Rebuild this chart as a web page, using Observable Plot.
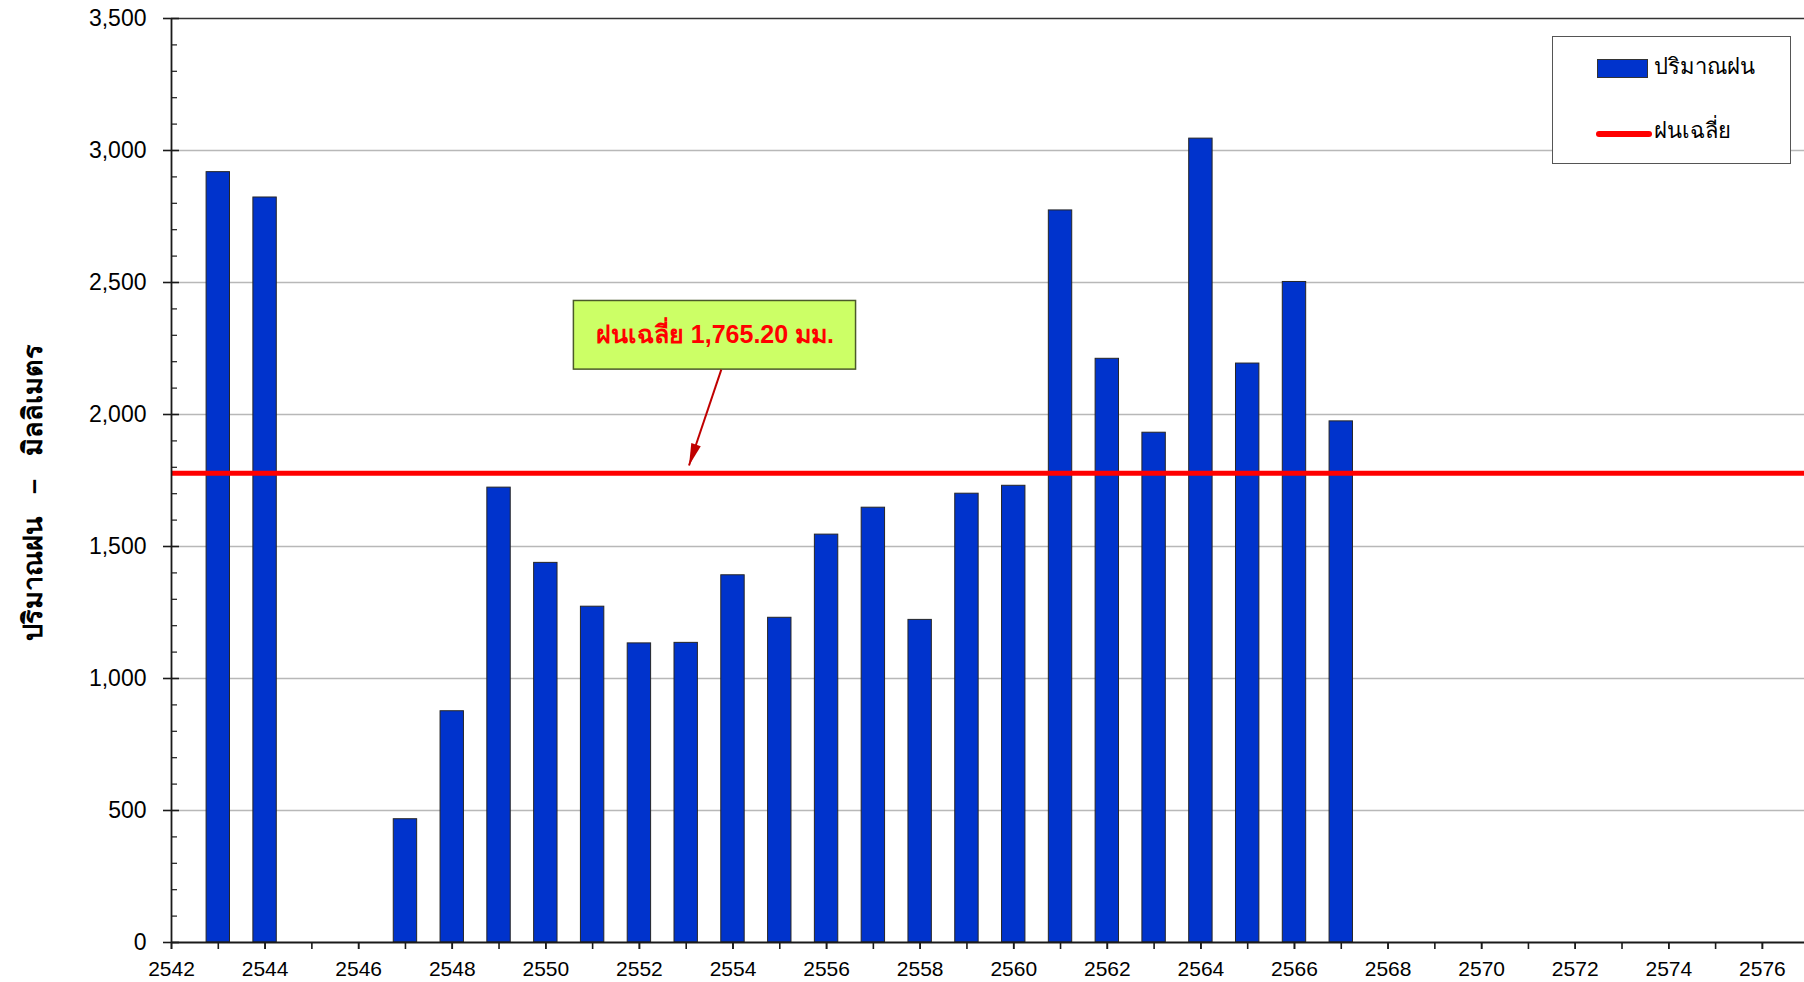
<!DOCTYPE html>
<html>
<head>
<meta charset="utf-8">
<script src="https://cdn.jsdelivr.net/npm/d3@7"></script>
<script src="https://cdn.jsdelivr.net/npm/@observablehq/plot@0.6"></script>
<style>
  body { margin: 0; background: #fff; }
  #wrap { position: relative; width: 1804px; height: 982px; overflow: hidden;
          font-family: Tahoma, "Liberation Sans", "Noto Sans", sans-serif; }
  #legend { position: absolute; left: 1552px; top: 36px; width: 239px; height: 128px;
            border: 1.5px solid #555; background: #fff; box-sizing: border-box; }
  #legend .sw { position: absolute; left: 44px; top: 22px; width: 51px; height: 19px;
                background: #0033cc; border: 1px solid #333; box-sizing: border-box; }
  #legend .ln { position: absolute; left: 43px; top: 94px; width: 56px; height: 6px;
                background: #ff0000; border-radius: 3px; }
  #legend .t { position: absolute; left: 101px; font-size: 22px; color: #000; line-height: 1; white-space: nowrap; }
</style>
</head>
<body>
<div id="wrap"></div>
<script>
// ---- data ----
const years    = [2543, 2544, 2547, 2548, 2549, 2550, 2551, 2552, 2553, 2554, 2555, 2556,
                  2557, 2558, 2559, 2560, 2561, 2562, 2563, 2564, 2565, 2566, 2567];
const rainfall = [2918, 2822, 467, 876, 1723, 1438, 1272, 1133, 1135, 1391, 1230, 1545,
                  1647, 1222, 1700, 1730, 2773, 2211, 1931, 3045, 2193, 2502, 1974];
const meanValue = 1777;
const meanLabel = "ฝนเฉลี่ย 1,765.20 มม.";
const yTicks = [0, 500, 1000, 1500, 2000, 2500, 3000, 3500];
const yMinorTicks = d3.range(0, 3501, 100).filter(v => v % 500 !== 0);
const xTickLabels = d3.range(2542, 2577, 2);
const xAllTicks = d3.range(2542, 2577, 1);
const yTitle = "ปริมาณฝน   –   มิลลิเมตร";
const legendLabels = ["ปริมาณฝน", "ฝนเฉลี่ย"];

// annotation placement (data units)
const noteBox = {x1: 2550.6, x2: 2556.63, y1: 2170, y2: 2430};
const noteArrow = {x1: 2553.75, y1: 2170, x2: 2553.06, y2: 1807};

const data = years.map((y, i) => ({year: y, value: rainfall[i]}));

const W = 1804, H = 982;
const mL = 171, mR = 0, mT = 18, mB = 40;
const xDomain = [2542, 2576.9];
const yDomain = [0, 3500];

// pixel scales to orient the arrowhead
const px = d3.scaleLinear(xDomain, [mL, W - mR]);
const py = d3.scaleLinear(yDomain, [H - mB, mT]);
const adx = px(noteArrow.x2) - px(noteArrow.x1);
const ady = py(noteArrow.y2) - py(noteArrow.y1);
const headAngle = Math.atan2(adx, -ady) * 180 / Math.PI;

const headSymbol = {
  draw(ctx) {
    ctx.moveTo(0, 0);
    ctx.lineTo(-5, 22);
    ctx.lineTo(5, 22);
    ctx.closePath();
  }
};

const font = 'Tahoma, "Liberation Sans", "Noto Sans", sans-serif';

const chart = Plot.plot({
  width: W, height: H,
  marginLeft: mL, marginRight: mR, marginTop: mT, marginBottom: mB,
  style: {fontFamily: font, background: "#fff", color: "#000", overflow: "visible"},
  x: {domain: xDomain, axis: null},
  y: {domain: yDomain, axis: null},
  marks: [
    Plot.gridY(yTicks.filter(v => v > 0 && v < 3500), {stroke: "#b8b8b8", strokeOpacity: 1, strokeWidth: 1.4}),
    Plot.ruleY([3500], {stroke: "#333", strokeWidth: 1.6}),
    Plot.rectY(data, {
      x1: d => d.year - 0.25, x2: d => d.year + 0.25, y1: 0, y2: "value",
      fill: "#0033cc", stroke: "#262626", strokeWidth: 1
    }),
    Plot.ruleY([meanValue], {stroke: "#ff0000", strokeWidth: 5}),
    // axes
    Plot.ruleX([2542], {stroke: "#1a1a1a", strokeWidth: 1.8}),
    Plot.ruleY([0], {stroke: "#1a1a1a", strokeWidth: 1.8}),
    Plot.axisY({ticks: yTicks, tickSize: 16, dx: 8, tickFormat: () => "", stroke: "#1a1a1a", strokeWidth: 1.6, label: null}),
    Plot.axisY({ticks: yMinorTicks, tickSize: 6, dx: 6, tickFormat: () => "", stroke: "#1a1a1a", strokeWidth: 1.2, label: null}),
    Plot.axisY({ticks: yTicks, tickSize: 0, tickPadding: 25, tickFormat: d3.format(","), fontSize: 23, fill: "#000", label: null}),
    Plot.axisX({ticks: xAllTicks, tickSize: 7, tickFormat: () => "", stroke: "#1a1a1a", strokeWidth: 1.6, label: null}),
    Plot.axisX({ticks: xTickLabels, tickSize: 7, tickPadding: 12, tickFormat: d => String(d), fontSize: 21, fill: "#000", stroke: "#1a1a1a", strokeWidth: 1.6, label: null}),
    // y title
    Plot.text([yTitle], {text: d => d, frameAnchor: "left", textAnchor: "middle", rotate: -90, dx: -138, dy: 12,
      fontSize: 27, fontWeight: "bold", fill: "#000"}),
    // annotation
    Plot.rect([noteBox], {x1: "x1", x2: "x2", y1: "y1", y2: "y2", fill: "#ccff66", stroke: "#4b5a2a", strokeWidth: 1.5}),
    Plot.text([meanLabel], {text: d => d, x: (noteBox.x1 + noteBox.x2) / 2, y: (noteBox.y1 + noteBox.y2) / 2,
      fill: "#ff0000", fontSize: 25, fontWeight: "bold"}),
    Plot.link([noteArrow], {x1: "x1", y1: "y1", x2: "x2", y2: "y2", stroke: "#c00000", strokeWidth: 2}),
    Plot.dot([noteArrow], {x: "x2", y: "y2", symbol: headSymbol, r: 10, fill: "#c00000", stroke: "none", rotate: headAngle})
  ]
});

const wrap = document.getElementById("wrap");
wrap.appendChild(chart);

const legend = document.createElement("div");
legend.id = "legend";
legend.innerHTML = `<div class="sw"></div><div class="t" style="top:19px">${legendLabels[0]}</div>
  <div class="ln"></div><div class="t" style="top:83px">${legendLabels[1]}</div>`;
wrap.appendChild(legend);
</script>
</body>
</html>
